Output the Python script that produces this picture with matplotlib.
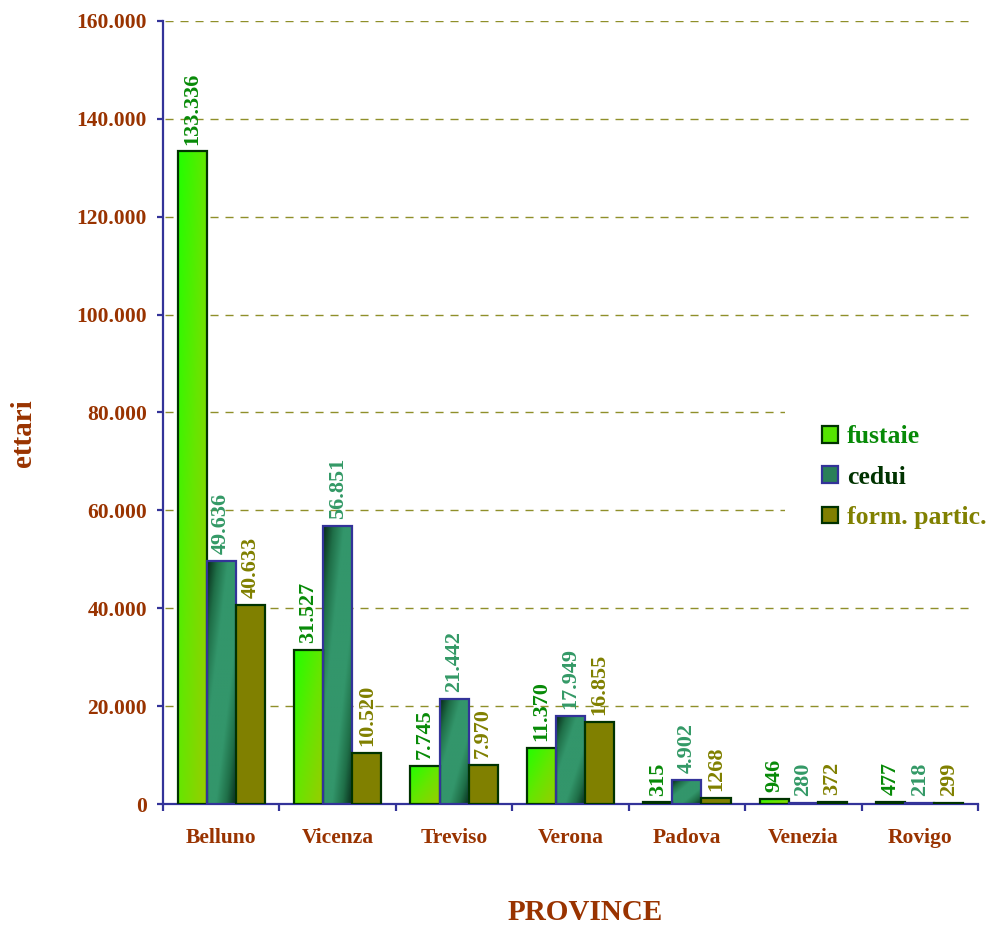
import numpy as np
import matplotlib.pyplot as plt
from matplotlib.colors import LinearSegmentedColormap
from matplotlib.patches import Patch, Rectangle
from matplotlib.ticker import FixedLocator, FuncFormatter, MultipleLocator

plt.rcParams['font.family'] = 'serif'
plt.rcParams['font.serif'] = ['Liberation Serif', 'DejaVu Serif']
plt.rcParams['font.weight'] = 'bold'

province = ['Belluno', 'Vicenza', 'Treviso', 'Verona', 'Padova', 'Venezia', 'Rovigo']
fustaie = [133336, 31527, 7745, 11370, 315, 946, 477]
cedui = [49636, 56851, 21442, 17949, 4902, 280, 218]
form_partic = [40633, 10520, 7970, 16855, 1268, 372, 299]

fustaie_lbl = ['133.336', '31.527', '7.745', '11.370', '315', '946', '477']
cedui_lbl = ['49.636', '56.851', '21.442', '17.949', '4.902', '280', '218']
form_lbl = ['40.633', '10.520', '7.970', '16.855', '1268', '372', '299']

AXIS = '#333399'
BROWN = '#993300'

cmap_fust = LinearSegmentedColormap.from_list('fust', ['#22ff00', '#66e600', '#9acc00'])
cmap_ced = LinearSegmentedColormap.from_list('ced', ['#072a18', '#1f6f48', '#33966b'])


def fust_fill(t):
    return cmap_fust(t)


def ced_fill(t):
    s = 1 - np.abs(2 * t - 1)
    return cmap_ced(np.clip(s * 1.4, 0, 1))


def draw_bar(ax, x, w, h, fill, edge):
    rect = Rectangle((x, 0), w, h, facecolor='none', edgecolor=edge, lw=1.6, zorder=4)
    ax.add_patch(rect)
    if isinstance(fill, str):
        rect.set_facecolor(fill)
        return
    u = np.linspace(0, 1, 40)
    v = np.linspace(0, 1, 160)
    U, V = np.meshgrid(u, v)
    img = ax.imshow(fill((U + V) / 2), extent=(x, x + w, 0, h), origin='upper',
                    aspect='auto', interpolation='bilinear', zorder=3)
    img.set_clip_path(rect)


fig = plt.figure(figsize=(9.91, 9.26), dpi=100)
ax = fig.add_axes([163 / 991, 122 / 926, 815 / 991, 783 / 926])

series = [
    (fustaie, fustaie_lbl, fust_fill, '#003300', '#078a07'),
    (cedui, cedui_lbl, ced_fill, AXIS, '#339966'),
    (form_partic, form_lbl, '#808000', '#003300', '#808000'),
]
w = 0.25
for k, (vals, lbls, fill, edge, tcol) in enumerate(series):
    for i, (v, s) in enumerate(zip(vals, lbls)):
        x = i + 0.125 + k * w
        draw_bar(ax, x, w, v, fill, edge)
        ax.annotate(s, (x + w / 2, v), xytext=(0, 5), textcoords='offset points',
                    rotation=90, ha='center', va='bottom', color=tcol,
                    fontsize=16, fontweight='bold', zorder=5)

# dashed gridlines
for y in range(20000, 160001, 20000):
    ax.axhline(y, xmin=0.003, xmax=0.99, color='#8f8f2a', lw=1,
               linestyle=(0, (5.8, 5)), zorder=1)

ax.set_xlim(0, 7)
ax.set_ylim(0, 160000)

for sp in ['top', 'right']:
    ax.spines[sp].set_visible(False)
for sp in ['left', 'bottom']:
    ax.spines[sp].set_color(AXIS)
    ax.spines[sp].set_linewidth(1.6)

ax.yaxis.set_major_locator(MultipleLocator(20000))
ax.yaxis.set_major_formatter(FuncFormatter(lambda v, p: f'{int(v):,}'.replace(',', '.')))
ax.tick_params(axis='y', direction='out', length=4.5, width=1.6, color=AXIS,
               labelcolor=BROWN, labelsize=15.5, pad=7)

ax.xaxis.set_major_locator(FixedLocator(np.arange(7) + 0.5))
ax.set_xticklabels(province)
ax.xaxis.set_minor_locator(FixedLocator(np.arange(8)))
ax.tick_params(axis='x', which='major', length=0, labelcolor=BROWN, labelsize=15.5, pad=17)
ax.tick_params(axis='x', which='minor', direction='out', length=5, width=1.6, color=AXIS)
for t in ax.get_xticklabels() + ax.get_yticklabels():
    t.set_fontweight('bold')

fig.text(23 / 991, 1 - 433 / 926, 'ettari', rotation=90, ha='center', va='center',
         color=BROWN, fontsize=21, fontweight='bold')
fig.text(585 / 991, 1 - 913 / 926, 'PROVINCE', ha='center', va='center',
         color=BROWN, fontsize=21, fontweight='bold')

handles = [
    Patch(facecolor='#55e400', edgecolor='#003300', lw=1.6),
    Patch(facecolor='#2a8058', edgecolor=AXIS, lw=1.6),
    Patch(facecolor='#808000', edgecolor='#003300', lw=1.6),
]
leg = fig.legend(handles, ['fustaie', 'cedui', 'form. partic.'], loc='upper left',
                 bbox_to_anchor=(785 / 991, 1 - 388 / 926), frameon=True,
                 facecolor='white', edgecolor='none', framealpha=1, fancybox=False,
                 prop={'size': 18.5, 'weight': 'bold'}, handlelength=0.62,
                 handleheight=0.62, handletextpad=0.35, labelspacing=0.68,
                 borderpad=1.45, borderaxespad=0)
for t, c in zip(leg.get_texts(), ['#078a07', '#003300', '#808000']):
    t.set_color(c)

fig.savefig('out.png', dpi=100)
